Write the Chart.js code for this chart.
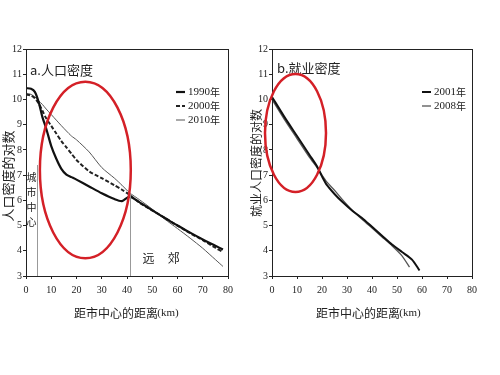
<!DOCTYPE html>
<html>
<head>
<meta charset="utf-8">
<script src="https://cdn.jsdelivr.net/npm/chart.js@4.4.1/dist/chart.umd.min.js"></script>
<style>
  body { margin: 0; background: #fff; }
  #wrap { position: relative; width: 500px; height: 375px; }
  canvas { position: absolute; top: 0; }
</style>
</head>
<body>
<div id="wrap">
  <canvas id="chartA" width="250" height="375" style="left:0"></canvas>
  <canvas id="chartB" width="250" height="375" style="left:250px"></canvas>
</div>
<script>
// a. 人口密度 (log of population density) vs distance from centre (km)
const distA   = [0, 2, 3.5, 5, 6.5, 8, 10, 12, 14, 16, 18, 20, 25, 30, 35, 38, 41, 45, 50, 55, 60, 65, 70, 75, 78];
const pop1990 = [10.45, 10.42, 10.3, 9.9, 9.3, 8.85, 8.15, 7.65, 7.25, 7.02, 6.92, 6.82, 6.55, 6.28, 6.05, 5.97, 6.15, 5.92, 5.6, 5.3, 5.0, 4.72, 4.45, 4.2, 4.05];
const pop2000 = [10.2, 10.15, 10.05, 9.85, 9.55, 9.25, 8.95, 8.65, 8.35, 8.1, 7.85, 7.6, 7.15, 6.88, 6.6, 6.42, 6.22, 5.9, 5.6, 5.3, 5.0, 4.7, 4.42, 4.12, 3.95];
const pop2010 = [10.25, 10.2, 10.1, 9.95, 9.8, 9.62, 9.4, 9.18, 8.96, 8.75, 8.55, 8.4, 7.92, 7.3, 6.88, 6.6, 6.3, 6.02, 5.65, 5.25, 4.88, 4.5, 4.1, 3.65, 3.38];

// b. 就业密度 (log of employment density)
const dist2001 = [0, 5, 10, 15, 18, 20, 22, 25, 28, 32, 36, 40, 44, 48, 52, 56, 59];
const emp2001  = [10.1, 9.3, 8.55, 7.8, 7.35, 6.95, 6.6, 6.25, 5.95, 5.6, 5.3, 4.95, 4.6, 4.25, 3.95, 3.65, 3.22];
const dist2008 = [0, 5, 10, 15, 18, 20, 22, 25, 28, 32, 36, 40, 44, 48, 52, 55];
const emp2008  = [10.0, 9.2, 8.45, 7.7, 7.3, 7.0, 6.72, 6.4, 6.05, 5.62, 5.25, 4.9, 4.55, 4.2, 3.8, 3.35];

const xTicks = [0, 10, 20, 30, 40, 50, 60, 70, 80];
const yTicks = [3, 4, 5, 6, 7, 8, 9, 10, 11, 12];

const SERIF = "'Liberation Serif', 'DejaVu Serif', serif";
const CJK = "'Noto Sans CJK SC', sans-serif";

function pts(xs, ys) {
  return xs.map((x, i) => ({ x: x, y: ys[i] }));
}

// draws the box, labels, legend and the red circles
const decor = {
  id: 'decor',
  afterDraw(chart, args, o) {
    const ctx = chart.ctx;
    const a = chart.chartArea;
    const xs = chart.scales.x, ys = chart.scales.y;
    ctx.save();
    ctx.strokeStyle = '#222';
    ctx.lineWidth = 1;
    ctx.strokeRect(a.left + 0.5, a.top + 0.5, a.right - a.left, a.bottom - a.top);

    (o.vlines || []).forEach(v => {
      const px = Math.round(xs.getPixelForValue(v.x)) + 0.5;
      ctx.strokeStyle = '#999';
      ctx.beginPath();
      ctx.moveTo(px, ys.getPixelForValue(v.from));
      ctx.lineTo(px, a.bottom);
      ctx.stroke();
    });

    ctx.fillStyle = '#222';
    ctx.textBaseline = 'middle';
    // panel title
    ctx.textAlign = 'left';
    ctx.font = '13px ' + CJK;
    ctx.fillText(o.title, o.titleX, o.titleY);

    // y title, rotated
    ctx.save();
    ctx.translate(o.yTitleX, o.yTitleY);
    ctx.rotate(-Math.PI / 2);
    ctx.textAlign = 'center';
    ctx.font = o.yTitleFont + 'px ' + CJK;
    ctx.fillText(o.yTitle, 0, 0);
    ctx.restore();

    // x title
    ctx.textAlign = 'center';
    ctx.font = '12px ' + CJK;
    ctx.fillText('距市中心的距离', o.xTitleX - 12, o.xTitleY);
    ctx.font = '11px ' + SERIF;
    ctx.fillText('(km)', o.xTitleX + 40, o.xTitleY);

    // notes
    (o.notes || []).forEach(n => {
      ctx.font = (n.vertical ? '10px ' : '12px ') + CJK;
      ctx.textAlign = 'center';
      const px = xs.getPixelForValue(n.x);
      let py = ys.getPixelForValue(n.y);
      if (n.vertical) {
        for (const ch of n.text) { ctx.fillText(ch, px, py); py += 15; }
      } else {
        ctx.fillText(n.text, px, py);
      }
    });

    // legend
    chart.data.datasets.forEach((ds, i) => {
      const y = o.legY + i * 14;
      ctx.strokeStyle = ds.borderColor;
      ctx.lineWidth = ds.borderWidth;
      ctx.setLineDash(ds.borderDash || []);
      ctx.beginPath();
      ctx.moveTo(o.legX, y);
      ctx.lineTo(o.legX + 9, y);
      ctx.stroke();
      ctx.setLineDash([]);
      ctx.fillStyle = '#222';
      ctx.textAlign = 'left';
      ctx.font = '11px ' + SERIF;
      const yr = ds.label.replace('年', '');
      ctx.fillText(yr, o.legX + 12, y);
      const w = ctx.measureText(yr).width;
      ctx.font = '10px ' + CJK;
      ctx.fillText('年', o.legX + 12 + w, y);
    });

    // red circles
    (o.circles || []).forEach(c => {
      const cx = xs.getPixelForValue(c.x), cy = ys.getPixelForValue(c.y);
      const rx = Math.abs(xs.getPixelForValue(c.x + c.rx) - cx);
      const ry = Math.abs(ys.getPixelForValue(c.y + c.ry) - cy);
      ctx.strokeStyle = '#d42027';
      ctx.lineWidth = 2.5;
      ctx.beginPath();
      ctx.ellipse(cx, cy, rx, ry, 0, 0, Math.PI * 2);
      ctx.stroke();
    });
    ctx.restore();
  }
};

function makeChart(id, datasets, yWidth, padRight, decorOpts) {
  return new Chart(document.getElementById(id), {
    type: 'line',
    data: { datasets: datasets },
    plugins: [decor],
    options: {
      responsive: false,
      animation: false,
      devicePixelRatio: 1,
      layout: { padding: { left: 0, top: 49, right: padRight, bottom: 0 } },
      elements: { point: { radius: 0 }, line: { tension: 0.25 } },
      plugins: { legend: { display: false }, tooltip: { enabled: false }, decor: decorOpts },
      scales: {
        x: {
          type: 'linear', min: 0, max: 80,
          afterBuildTicks: s => { s.ticks = xTicks.map(v => ({ value: v })); },
          afterFit: s => { s.height = 99; },
          grid: { drawOnChartArea: false, tickLength: 3, color: '#222' },
          border: { color: '#222' },
          ticks: { padding: 5, color: '#222', font: { family: SERIF, size: 10 } }
        },
        y: {
          min: 3, max: 12,
          afterBuildTicks: s => { s.ticks = yTicks.map(v => ({ value: v })); },
          afterFit: s => { s.width = yWidth; },
          grid: { drawOnChartArea: false, tickLength: 3, color: '#222' },
          border: { color: '#222' },
          ticks: { padding: 1, color: '#222', font: { family: SERIF, size: 10 } }
        }
      }
    }
  });
}

makeChart('chartA', [
  { label: '1990年', data: pts(distA, pop1990), borderColor: '#111', borderWidth: 2.2 },
  { label: '2000年', data: pts(distA, pop2000), borderColor: '#222', borderWidth: 2, borderDash: [4, 2] },
  { label: '2010年', data: pts(distA, pop2010), borderColor: '#555', borderWidth: 1 }
], 26, 22, {
  title: 'a.人口密度', titleX: 30, titleY: 70,
  yTitle: '人口密度的对数', yTitleFont: 13, yTitleX: 8, yTitleY: 176,
  xTitleX: 128, xTitleY: 313,
  legX: 176, legY: 92,
  vlines: [{ x: 4.3, from: 7.4 }, { x: 41, from: 6.3 }],
  notes: [{ text: '城市中心', x: 2.2, y: 6.9, vertical: true }, { text: '远', x: 48.5, y: 3.7 }, { text: '郊', x: 58.5, y: 3.7 }],
  circles: [{ x: 23.5, y: 7.2, rx: 18, ry: 3.5 }]
});

makeChart('chartB', [
  { label: '2001年', data: pts(dist2001, emp2001), borderColor: '#111', borderWidth: 2 },
  { label: '2008年', data: pts(dist2008, emp2008), borderColor: '#555', borderWidth: 1.3 }
], 22, 28, {
  title: 'b.就业密度', titleX: 27, titleY: 68,
  yTitle: '就业人口密度的对数', yTitleFont: 12, yTitleX: 6, yTitleY: 163,
  xTitleX: 120, xTitleY: 313,
  legX: 172, legY: 92,
  vlines: [],
  notes: [],
  circles: [{ x: 9.4, y: 8.67, rx: 12.2, ry: 2.34 }]
});
</script>
</body>
</html>
